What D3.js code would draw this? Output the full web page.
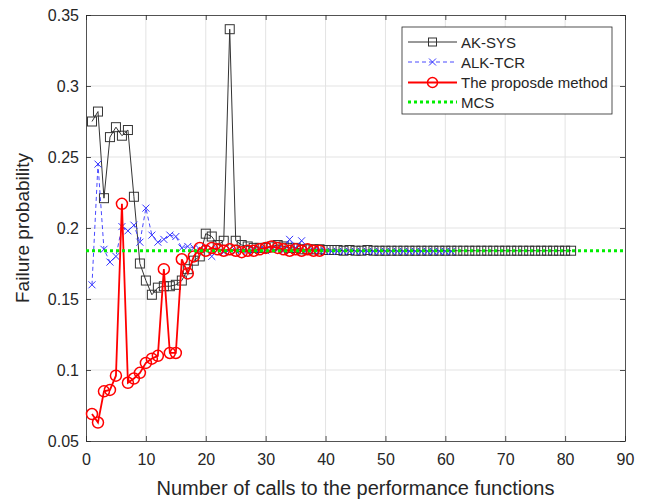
<!DOCTYPE html>
<html><head><meta charset="utf-8">
<script src="https://cdn.jsdelivr.net/npm/d3@7"></script>
<style>body{margin:0;background:#fff;} svg{display:block;font-family:"Liberation Sans",Arial,sans-serif;}</style>
</head><body>
<svg id="c" width="646" height="503"></svg>
<script>
const xTicks = [0,10,20,30,40,50,60,70,80,90];
const yTicks = [0.05,0.1,0.15,0.2,0.25,0.3,0.35];
const yTickLabels = ["0.05","0.1","0.15","0.2","0.25","0.3","0.35"];
const seriesNames = ["AK-SYS","ALK-TCR","The proposde method","MCS"];

const akSys = [0.275,0.282,0.221,0.264,0.271,0.265,0.269,0.222,0.175,0.163,
0.153,0.158,0.159,0.159,0.160,0.163,0.171,0.177,0.180,0.196,
0.194,0.188,0.191,0.340,0.191,0.188,0.187,0.186,0.186,0.186,
0.187,0.188,0.187,0.186,0.186,0.185,0.185,0.185,0.185,0.1845,
0.1845,0.1845,0.184,0.1845,0.184,0.184,0.1845,0.184,0.184,0.184,
0.184,0.184,0.184,0.184,0.184,0.184,0.184,0.184,0.184,0.184,
0.184,0.184,0.184,0.184,0.184,0.184,0.184,0.184,0.184,0.184,
0.184,0.184,0.184,0.184,0.184,0.184,0.184,0.184,0.184,0.184,0.184];

const alkTcr = [0.160,0.245,0.185,0.176,0.180,0.201,0.198,0.202,0.190,0.214,
0.195,0.190,0.192,0.195,0.194,0.186,0.187,0.186,0.185,0.186,
0.180,0.185,0.183,0.185,0.184,0.185,0.184,0.185,0.185,0.184,
0.185,0.185,0.184,0.192,0.186,0.191,0.185,0.184,0.184,0.1835,
0.1835,0.1835,0.1835,0.1835,0.1835,0.1835,0.1835,0.1835,0.1835,0.1835,
0.1835,0.1835,0.1835,0.1835,0.1835,0.1835,0.1835,0.1835,0.1835,0.1835,0.1835];

const proposed = [0.069,0.063,0.085,0.086,0.096,0.217,0.091,0.094,0.098,0.105,
0.108,0.110,0.171,0.112,0.112,0.178,0.168,0.180,0.186,0.184,
0.186,0.185,0.184,0.185,0.184,0.183,0.184,0.184,0.185,0.186,
0.187,0.186,0.185,0.184,0.185,0.184,0.185,0.184,0.184];

const mcsValue = 0.184;
const xDomain = [0,90];
const yDomain = [0.05,0.35];

const svg = d3.select("#c");
const m = {l:86,t:15,r:21,b:62};
const W = 646, H = 503;
const x = d3.scaleLinear().domain(xDomain).range([m.l, W-m.r]);
const y = d3.scaleLinear().domain(yDomain).range([H-m.b, m.t]);
const ink = "#262626";
const FONT = "Liberation Sans, Arial, sans-serif";

// grid
const g = svg.append("g");
g.selectAll(".gx").data(xTicks.slice(1,-1)).join("line")
 .attr("x1",d=>x(d)).attr("x2",d=>x(d)).attr("y1",y(yDomain[0])).attr("y2",y(yDomain[1]))
 .attr("stroke","#e3e3e3").attr("stroke-width",1);
g.selectAll(".gy").data(yTicks.slice(1,-1)).join("line")
 .attr("y1",d=>y(d)).attr("y2",d=>y(d)).attr("x1",x(xDomain[0])).attr("x2",x(xDomain[1]))
 .attr("stroke","#e3e3e3").attr("stroke-width",1);

// axes
const xAxis = d3.axisBottom(x).tickValues(xTicks).tickSizeInner(-5).tickSizeOuter(0).tickPadding(13).tickFormat(d3.format("d"));
const yAxis = d3.axisLeft(y).tickValues(yTicks).tickSizeInner(-5).tickSizeOuter(0).tickPadding(7).tickFormat((d,i)=>yTickLabels[i]);
const xa = svg.append("g").attr("transform",`translate(0,${y(yDomain[0])})`).call(xAxis);
const ya = svg.append("g").attr("transform",`translate(${x(xDomain[0])},0)`).call(yAxis);
const xa2 = svg.append("g").attr("transform",`translate(0,${y(yDomain[1])})`).call(d3.axisTop(x).tickValues(xTicks).tickSizeInner(-5).tickSizeOuter(0).tickFormat(""));
const ya2 = svg.append("g").attr("transform",`translate(${x(xDomain[1])},0)`).call(d3.axisRight(y).tickValues(yTicks).tickSizeInner(-5).tickSizeOuter(0).tickFormat(""));
[xa,ya,xa2,ya2].forEach(a=>{a.selectAll("path,line").attr("stroke",ink).attr("stroke-width",0.8);
 a.selectAll("text").attr("fill",ink).attr("font-size",16).attr("font-family",FONT);});

svg.append("text").attr("x",(x(0)+x(90))/2).attr("y",495).attr("text-anchor","middle")
 .attr("font-size",20).attr("fill",ink).attr("font-family",FONT).text("Number of calls to the performance functions");
svg.append("text").attr("transform",`translate(29,${(y(0.05)+y(0.35))/2}) rotate(-90)`).attr("text-anchor","middle")
 .attr("font-size",19).attr("fill",ink).attr("font-family",FONT).text("Failure probability");

const line = d3.line().x((d,i)=>x(i+1)).y(d=>y(d));
const plot = svg.append("g");

// AK-SYS
plot.append("path").datum(akSys).attr("d",line).attr("fill","none").attr("stroke","#333").attr("stroke-width",1);
plot.selectAll(".sq").data(akSys).join("rect")
 .attr("x",(d,i)=>x(i+1)-4.5).attr("y",d=>y(d)-4.5).attr("width",9).attr("height",9)
 .attr("fill","none").attr("stroke","#333").attr("stroke-width",1);

// ALK-TCR
plot.append("path").datum(alkTcr).attr("d",line).attr("fill","none").attr("stroke","#4a4aff").attr("stroke-width",1).attr("stroke-dasharray","4,3");
const xm = (cx,cy,s)=>`M${cx-s},${cy-s}L${cx+s},${cy+s}M${cx-s},${cy+s}L${cx+s},${cy-s}`;
plot.selectAll(".xm").data(alkTcr).join("path")
 .attr("d",(d,i)=>xm(x(i+1),y(d),3.5)).attr("stroke","#3535ff").attr("stroke-width",1).attr("fill","none");

// Proposed
plot.append("path").datum(proposed).attr("d",line).attr("fill","none").attr("stroke","#ff0000").attr("stroke-width",1.8);
plot.selectAll(".ci").data(proposed).join("circle")
 .attr("cx",(d,i)=>x(i+1)).attr("cy",d=>y(d)).attr("r",5.5)
 .attr("fill","none").attr("stroke","#ff0000").attr("stroke-width",1.5);

// MCS
plot.append("line").attr("x1",x(xDomain[0])).attr("x2",x(xDomain[1])).attr("y1",y(mcsValue)).attr("y2",y(mcsValue))
 .attr("stroke","#00ee00").attr("stroke-width",3).attr("stroke-dasharray","3,3");

// legend
const lg = svg.append("g");
lg.append("rect").attr("x",402).attr("y",27).attr("width",210).attr("height",87).attr("fill","#fff").attr("stroke",ink).attr("stroke-width",0.8);
const ly = [42,62,82.5,102];
const lx1 = 408, lx2 = 457, lm = (lx1+lx2)/2;
lg.append("line").attr("x1",lx1).attr("x2",lx2).attr("y1",ly[0]).attr("y2",ly[0]).attr("stroke","#333").attr("stroke-width",1);
lg.append("rect").attr("x",lm-4).attr("y",ly[0]-4).attr("width",8).attr("height",8).attr("fill","none").attr("stroke","#333");
lg.append("line").attr("x1",lx1).attr("x2",lx2).attr("y1",ly[1]).attr("y2",ly[1]).attr("stroke","#4a4aff").attr("stroke-dasharray","4,3");
lg.append("path").attr("d",xm(lm,ly[1],3.5)).attr("stroke","#3535ff").attr("fill","none");
lg.append("line").attr("x1",lx1).attr("x2",lx2).attr("y1",ly[2]).attr("y2",ly[2]).attr("stroke","#ff0000").attr("stroke-width",1.8);
lg.append("circle").attr("cx",lm).attr("cy",ly[2]).attr("r",5).attr("fill","none").attr("stroke","#ff0000").attr("stroke-width",1.5);
lg.append("line").attr("x1",lx1).attr("x2",lx2).attr("y1",ly[3]).attr("y2",ly[3]).attr("stroke","#00ee00").attr("stroke-width",3).attr("stroke-dasharray","3,3");
lg.selectAll(".lt").data(seriesNames).join("text").attr("x",461).attr("y",(d,i)=>ly[i]+5.5)
 .attr("font-size",15).attr("fill",ink).attr("font-family",FONT).text(d=>d);
</script>
</body></html>
